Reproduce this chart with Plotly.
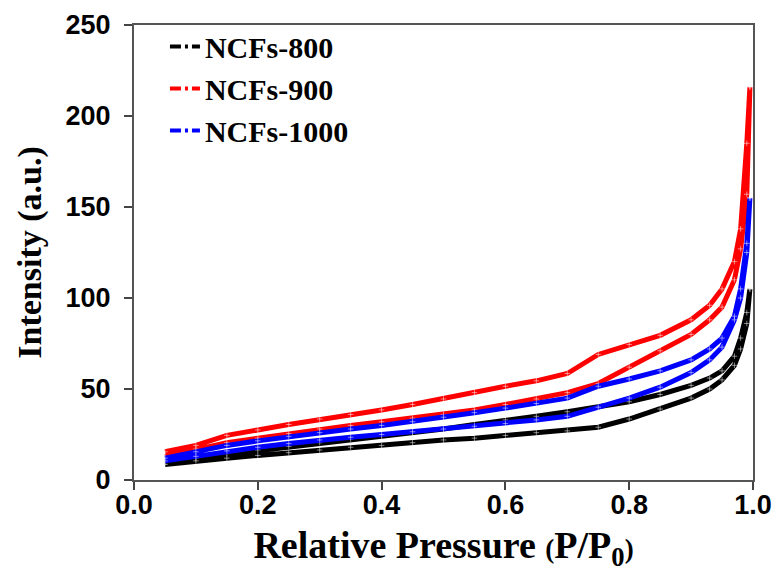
import plotly.graph_objects as go

# relative pressure points, adsorption branch (desorption uses the same points reversed)
p_ads = [0.05, 0.10, 0.15, 0.20, 0.25, 0.30, 0.35, 0.40, 0.45, 0.50, 0.55, 0.60,
         0.65, 0.70, 0.75, 0.80, 0.85, 0.90, 0.93, 0.95, 0.97, 0.98, 0.99, 0.995]
p_des = p_ads[::-1]

# NCFs-800
ncf800_ads = [8.5, 10.5, 12, 13.5, 15, 16.5, 18, 19, 20.5, 22, 23, 24.5,
              26, 27, 29, 33.5, 39, 45, 50, 55, 63, 72, 86, 105]
ncf800_des = [105, 92, 78, 68, 60, 56, 52, 47, 43, 40, 37.5, 35,
              33, 30.5, 28, 26, 24, 22.5, 20.5, 18.5, 16.5, 14.5, 12, 9.5]

# NCFs-900
ncf900_ads = [13, 17, 20.5, 23, 25.5, 28, 30, 32, 34, 36, 38.5, 41.5,
              44.5, 48, 53, 62, 71, 80, 88, 95, 110, 127, 157, 216]
ncf900_des = [216, 185, 138, 120, 105, 96, 88, 79.5, 74.5, 69, 58.5, 54.5,
              51.5, 48, 44.5, 41.5, 38.5, 36, 33.5, 30.5, 27.5, 24.5, 19, 15.5]

# NCFs-1000
ncf1000_ads = [10.5, 13, 16, 18, 20, 22, 23.5, 25, 26.5, 28, 29.5, 31,
               33, 35, 40, 45, 51, 59, 66, 73, 88, 100, 125, 155]
ncf1000_des = [155, 130, 105, 90, 78, 72, 66, 60, 55.5, 51.5, 45, 42,
               39.5, 37, 34.5, 32, 30, 28, 26, 24, 21.5, 19, 15.5, 12]

names = ['NCFs-800', 'NCFs-900', 'NCFs-1000']
colors = ['#000000', '#ff0000', '#0000ff']
series = [(ncf800_ads, ncf800_des), (ncf900_ads, ncf900_des), (ncf1000_ads, ncf1000_des)]

fig = go.Figure()

for name, col, (ads, des) in zip(names, colors, series):
    fig.add_trace(go.Scatter(
        x=p_ads + p_des,
        y=ads + des,
        mode='lines+markers',
        line={'color': col, 'width': 5},
        marker={'symbol': 'cross-thin', 'size': 4,
                'line': {'color': 'rgba(255,255,255,0.5)', 'width': 1}},
        showlegend=False,
        name=name,
    ))

# legend entries drawn with the dash-dot symbol
for name, col in zip(names, colors):
    fig.add_trace(go.Scatter(
        x=[None], y=[None],
        mode='lines',
        line={'color': col, 'width': 4, 'dash': '11px,4px,3px,4px'},
        name=name,
    ))

tickfont = {'family': 'Liberation Sans', 'size': 27, 'color': 'black', 'weight': 'bold'}
titlefont = {'family': 'Liberation Serif', 'size': 34, 'color': 'black', 'weight': 'bold'}

# page body has an 8px margin, so the figure is 8px smaller and margins shift
fig.update_layout(
    width=772, height=568,
    margin={'l': 126, 'r': 27, 't': 15, 'b': 96},
    paper_bgcolor='white',
    plot_bgcolor='white',
    showlegend=True,
    legend={
        'x': 0.05, 'xanchor': 'left',
        'y': 1.01, 'yanchor': 'top',
        'bgcolor': 'rgba(0,0,0,0)',
        'font': {'family': 'Liberation Serif', 'size': 30, 'color': 'black', 'weight': 'bold'},
        'tracegroupgap': 0,
        'itemwidth': 30,
    },
    xaxis={
        'range': [0, 1.0],
        'tick0': 0, 'dtick': 0.2,
        'tickformat': '.1f',
        'automargin': False,
        'ticks': 'outside', 'ticklen': 8, 'tickwidth': 1.5, 'tickcolor': '#444',
        'ticklabelstandoff': -8,
        'showline': True, 'linecolor': '#555', 'linewidth': 2, 'mirror': True,
        'showgrid': False, 'zeroline': False,
        'tickfont': tickfont,
        'title': {'text': "Relative Pressure <span style='font-size:27px'>(</span>P/P<sub>0</sub>"
                          "<span style='font-size:27px'>)</span>",
                  'font': dict(titlefont, size=38), 'standoff': 12},
    },
    yaxis={
        'range': [0, 250],
        'tick0': 0, 'dtick': 50,
        'automargin': False,
        'ticks': 'outside', 'ticklen': 8, 'tickwidth': 1.5, 'tickcolor': '#444',
        'ticklabelstandoff': 8,
        'showline': True, 'linecolor': '#555', 'linewidth': 2, 'mirror': True,
        'showgrid': False, 'zeroline': False,
        'tickfont': tickfont,
        'title': {'text': 'Intensity (a.u.)', 'font': titlefont, 'standoff': 14},
    },
)

fig.write_html("out.html")
